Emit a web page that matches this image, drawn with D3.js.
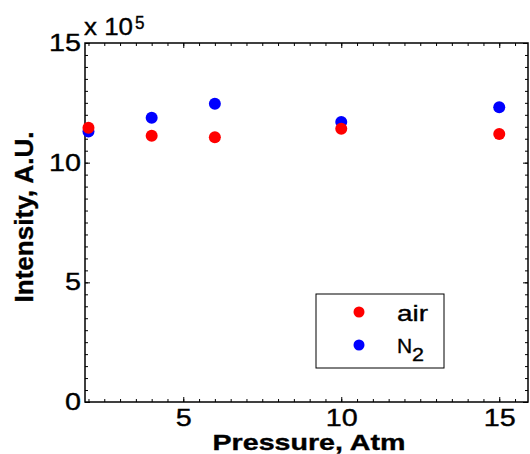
<!DOCTYPE html>
<html>
<head>
<meta charset="utf-8">
<script src="https://cdn.jsdelivr.net/npm/d3@7"></script>
<style>
  body { margin: 0; background: #fff; }
  text { font-family: "Liberation Sans", Arial, sans-serif; fill: #000; stroke: #000; stroke-width: 0.35; }
  .domain { display: none; }
  .tick line { stroke: #000; stroke-width: 1; }
</style>
</head>
<body>
<div id="chart"></div>
<script>
// data (intensity in A.U.)
var pressure = [2, 4, 6, 10, 15];
var airIntensity = [11.46e5, 11.12e5, 11.06e5, 11.42e5, 11.20e5];
var n2Intensity = [11.30e5, 11.88e5, 12.46e5, 11.70e5, 12.32e5];
var seriesNames = ["air", "N", "2"];
var seriesColors = ["#ff0000", "#0000ff"];
var xTicks = [5, 10, 15];
var yTicks = [0, 5e5, 10e5, 15e5];

// svg container
var svgWidth = 530;
var svgHeight = 454;

// plot box edges
var margin = { top: 43, right: 2, bottom: 52, left: 85 };
var chartWidth = svgWidth - margin.left - margin.right;
var chartHeight = svgHeight - margin.top - margin.bottom;

var svg = d3.select("#chart").append("svg")
  .attr("width", svgWidth)
  .attr("height", svgHeight);

svg.append("rect")
  .attr("width", svgWidth)
  .attr("height", svgHeight)
  .attr("fill", "#fff");

var chartGroup = svg.append("g")
  .attr("transform", `translate(${margin.left}, ${margin.top})`);

// scales
var xScale = d3.scaleLinear()
  .domain([1.89, 15.91])
  .range([0, chartWidth]);

var yScale = d3.scaleLinear()
  .domain([0, 15e5])
  .range([chartHeight, 0]);

// minor tick values every 0.5
var xMinor = d3.range(2, 15.51, 0.5);
var yMinor = d3.range(0, 15.01, 0.5).map(d => d * 1e5);

// minor ticks on all four sides
chartGroup.append("g")
  .attr("transform", `translate(0, ${chartHeight})`)
  .call(d3.axisBottom(xScale).tickValues(xMinor).tickSize(-3).tickFormat(""));
chartGroup.append("g")
  .call(d3.axisTop(xScale).tickValues(xMinor).tickSize(-3).tickFormat(""));
chartGroup.append("g")
  .call(d3.axisLeft(yScale).tickValues(yMinor).tickSize(-3).tickFormat(""));
chartGroup.append("g")
  .attr("transform", `translate(${chartWidth}, 0)`)
  .call(d3.axisRight(yScale).tickValues(yMinor).tickSize(-3).tickFormat(""));

// major ticks with labels
chartGroup.append("g")
  .attr("transform", `translate(0, ${chartHeight})`)
  .call(d3.axisBottom(xScale).tickValues(xTicks).tickSize(-5).tickPadding(8));
chartGroup.append("g")
  .call(d3.axisLeft(yScale).tickValues(yTicks).tickSize(-5).tickPadding(4)
    .tickFormat(d => d / 1e5));
chartGroup.append("g")
  .call(d3.axisTop(xScale).tickValues(xTicks).tickSize(-5).tickFormat(""));
chartGroup.append("g")
  .attr("transform", `translate(${chartWidth}, 0)`)
  .call(d3.axisRight(yScale).tickValues(yTicks).tickSize(-5).tickFormat(""));

// tick label font, a bit wider than plain Arial
chartGroup.selectAll(".tick text")
  .attr("font-size", 23)
  .style("font-family", '"Liberation Sans", Arial, sans-serif')
  .each(function() {
    var w = this.getComputedTextLength();
    d3.select(this).attr("textLength", w * 1.25).attr("lengthAdjust", "spacingAndGlyphs");
  });

// box
chartGroup.append("rect")
  .attr("width", chartWidth)
  .attr("height", chartHeight)
  .attr("fill", "none")
  .attr("stroke", "#000")
  .attr("stroke-width", 1.5);

// points, N2 first so air sits on top
var series = [
  { name: "N2", values: n2Intensity, color: seriesColors[1] },
  { name: "air", values: airIntensity, color: seriesColors[0] }
];

series.forEach(function(s) {
  chartGroup.selectAll(".pt-" + s.name)
    .data(s.values)
    .enter()
    .append("circle")
    .attr("class", "pt-" + s.name)
    .attr("cx", (d, i) => xScale(pressure[i]))
    .attr("cy", d => yScale(d))
    .attr("r", 6)
    .attr("fill", s.color);
});

// exponent label
svg.append("text")
  .attr("x", 84)
  .attr("y", 35)
  .style("font-size", "23px")
  .attr("textLength", 49)
  .attr("lengthAdjust", "spacingAndGlyphs")
  .text("x 10");
svg.append("text")
  .attr("x", 135)
  .attr("y", 29)
  .style("font-size", "19px")
  .attr("textLength", 9.5)
  .attr("lengthAdjust", "spacingAndGlyphs")
  .text("5");

// axis titles
svg.append("text")
  .attr("x", 309)
  .attr("y", 449.5)
  .attr("text-anchor", "middle")
  .style("font-size", "22px")
  .attr("font-weight", "bold")
  .attr("textLength", 193)
  .attr("lengthAdjust", "spacingAndGlyphs")
  .text("Pressure, Atm");

svg.append("text")
  .attr("transform", "translate(33, 217) rotate(-90)")
  .attr("text-anchor", "middle")
  .style("font-size", "25px")
  .attr("font-weight", "bold")
  .attr("textLength", 171)
  .attr("lengthAdjust", "spacingAndGlyphs")
  .text("Intensity, A.U.");

// legend
var legend = svg.append("g");
legend.append("rect")
  .attr("x", 316)
  .attr("y", 294)
  .attr("width", 128)
  .attr("height", 74)
  .attr("fill", "#fff")
  .attr("stroke", "#000")
  .attr("stroke-width", 1);

var legendRows = [
  { color: seriesColors[0], cy: 312, ty: 321 },
  { color: seriesColors[1], cy: 345, ty: 352.5 }
];
legendRows.forEach(function(r) {
  legend.append("circle")
    .attr("cx", 359)
    .attr("cy", r.cy)
    .attr("r", 5.5)
    .attr("fill", r.color);
});

legend.append("text")
  .attr("x", 397)
  .attr("y", legendRows[0].ty)
  .style("font-size", "22px")
  .attr("textLength", 31)
  .attr("lengthAdjust", "spacingAndGlyphs")
  .text(seriesNames[0]);

legend.append("text")
  .attr("x", 397)
  .attr("y", legendRows[1].ty)
  .style("font-size", "21px")
  .text(seriesNames[1]);
legend.append("text")
  .attr("x", 412)
  .attr("y", legendRows[1].ty + 8)
  .style("font-size", "19px")
  .attr("textLength", 12)
  .attr("lengthAdjust", "spacingAndGlyphs")
  .text(seriesNames[2]);
</script>
</body>
</html>
